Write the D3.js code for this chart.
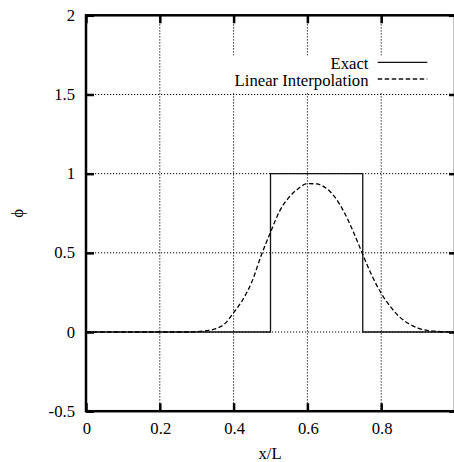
<!DOCTYPE html>
<html>
<head>
<meta charset="utf-8">
<script src="https://cdn.jsdelivr.net/npm/d3@7"></script>
<style>
  html, body { margin: 0; padding: 0; background: #fff; }
  svg { display: block; }
  text { font-family: "Liberation Serif", "DejaVu Serif", serif; font-size: 16.7px; fill: #000; }
</style>
</head>
<body>
<svg id="chart" width="454" height="462"></svg>
<script>
// Exact profile: square pulse between x = 0.5 and x = 0.75
const exactX   = [0, 0.5, 0.5, 0.75, 0.75, 1.0];
const exactPhi = [0, 0,   1,   1,    0,    0];

// Linear interpolation solution
const interpX = [0, 0.05, 0.1, 0.15, 0.2, 0.25, 0.275, 0.3, 0.325, 0.35, 0.375, 0.4, 0.425, 0.45, 0.475,
                 0.5, 0.525, 0.55, 0.575, 0.6, 0.625, 0.65, 0.675, 0.7, 0.725, 0.75, 0.775,
                 0.8, 0.825, 0.85, 0.875, 0.9, 0.925, 0.95, 0.975, 1.0];
const interpPhi = [0, 0, 0, 0, 0, 0, 0, 0.002, 0.008, 0.02, 0.05, 0.122, 0.205, 0.32, 0.485,
                   0.63, 0.765, 0.85, 0.905, 0.937, 0.935, 0.91, 0.85, 0.755, 0.63, 0.49, 0.355,
                   0.245, 0.16, 0.095, 0.052, 0.025, 0.01, 0.004, 0.001, 0];

const xTicks = [0, 0.2, 0.4, 0.6, 0.8];
const yTicks = [-0.5, 0, 0.5, 1, 1.5, 2];
const xTickLabels = ["0", "0.2", "0.4", "0.6", "0.8"];
const yTickLabels = ["-0.5", "0", "0.5", "1", "1.5", "2"];

const legendLabels = ["Exact", "Linear Interpolation"];

const plotL = 86, plotR = 455, plotT = 15.3, plotB = 411.2;

const svg = d3.select("#chart");
const x = d3.scaleLinear().domain([0, 1]).range([plotL, plotR]);
const y = d3.scaleLinear().domain([-0.5, 2]).range([plotB, plotT]);

// grid
const grid = svg.append("g").attr("stroke", "#000").attr("stroke-width", 1)
  .attr("stroke-dasharray", "1.2,1.8").attr("fill", "none");
xTicks.filter(v => v > 0).forEach(v => {
  grid.append("line").attr("x1", x(v)).attr("x2", x(v)).attr("y1", plotT).attr("y2", plotB);
});
yTicks.filter(v => v > -0.5 && v < 2).forEach(v => {
  grid.append("line").attr("x1", plotL).attr("x2", plotR).attr("y1", y(v)).attr("y2", y(v));
});

// key background
svg.append("rect").attr("x", 228).attr("y", 55.5).attr("width", 214).attr("height", 37.5)
  .attr("fill", "#fff");

// axes with inward ticks on all four sides
const tickLen = 8;
const axB = d3.axisBottom(x).tickValues(xTicks).tickSize(-tickLen).tickFormat("");
const axT = d3.axisTop(x).tickValues(xTicks).tickSize(-tickLen).tickFormat("");
const axL = d3.axisLeft(y).tickValues(yTicks).tickSize(-tickLen).tickFormat("");
const axR = d3.axisRight(y).tickValues(yTicks).tickSize(-6).tickFormat("");
[[axB, `translate(0,${plotB})`], [axT, `translate(0,${plotT})`],
 [axL, `translate(${plotL},0)`], [axR, `translate(${plotR},0)`]].forEach(([ax, tr]) => {
  const g = svg.append("g").attr("transform", tr).call(ax);
  g.select(".domain").remove();
  g.selectAll(".tick line").attr("stroke", "#000").attr("stroke-width", 2.5);
});

// tick labels
svg.append("g").selectAll("text").data(xTicks).join("text")
  .attr("x", d => x(d) + 1).attr("y", 433.5).attr("text-anchor", "middle")
  .text((d, i) => xTickLabels[i]);
svg.append("g").selectAll("text").data(yTicks).join("text")
  .attr("x", 75).attr("y", d => y(d) + 5.5).attr("text-anchor", "end")
  .text((d, i) => yTickLabels[i]);

// axis titles
svg.append("text").attr("x", 270).attr("y", 459).attr("text-anchor", "middle").text("x/L");
svg.append("text").attr("transform", `translate(23,${(plotT + plotB) / 2}) rotate(-90)`)
  .attr("text-anchor", "middle").text("ϕ");

// curves
const exactLine = d3.line().x(d => x(d[0])).y(d => y(d[1]));
svg.append("path").datum(d3.zip(exactX, exactPhi)).attr("d", exactLine)
  .attr("fill", "none").attr("stroke", "#111").attr("stroke-width", 1.3);

const interpLine = d3.line().x(d => x(d[0])).y(d => y(d[1])).curve(d3.curveMonotoneX);
svg.append("path").datum(d3.zip(interpX, interpPhi)).attr("d", interpLine)
  .attr("fill", "none").attr("stroke", "#000").attr("stroke-width", 1.3)
  .attr("stroke-dasharray", "4.5,2.5");

// key
const keyY = [62.3, 79];
const keyTextY = [69.2, 86.4];
const keyDash = [null, "4.5,2.5"];
legendLabels.forEach((lab, i) => {
  svg.append("text").attr("x", 368.5).attr("y", keyTextY[i]).attr("text-anchor", "end").text(lab);
  svg.append("line").attr("x1", 377.7).attr("x2", 427.3).attr("y1", keyY[i]).attr("y2", keyY[i])
    .attr("stroke", "#111").attr("stroke-width", 1.3).attr("stroke-dasharray", keyDash[i]);
});

// frame
svg.append("rect").attr("x", plotL).attr("y", plotT).attr("width", plotR - plotL).attr("height", plotB - plotT)
  .attr("fill", "none").attr("stroke", "#000").attr("stroke-width", 2.5);
</script>
</body>
</html>
